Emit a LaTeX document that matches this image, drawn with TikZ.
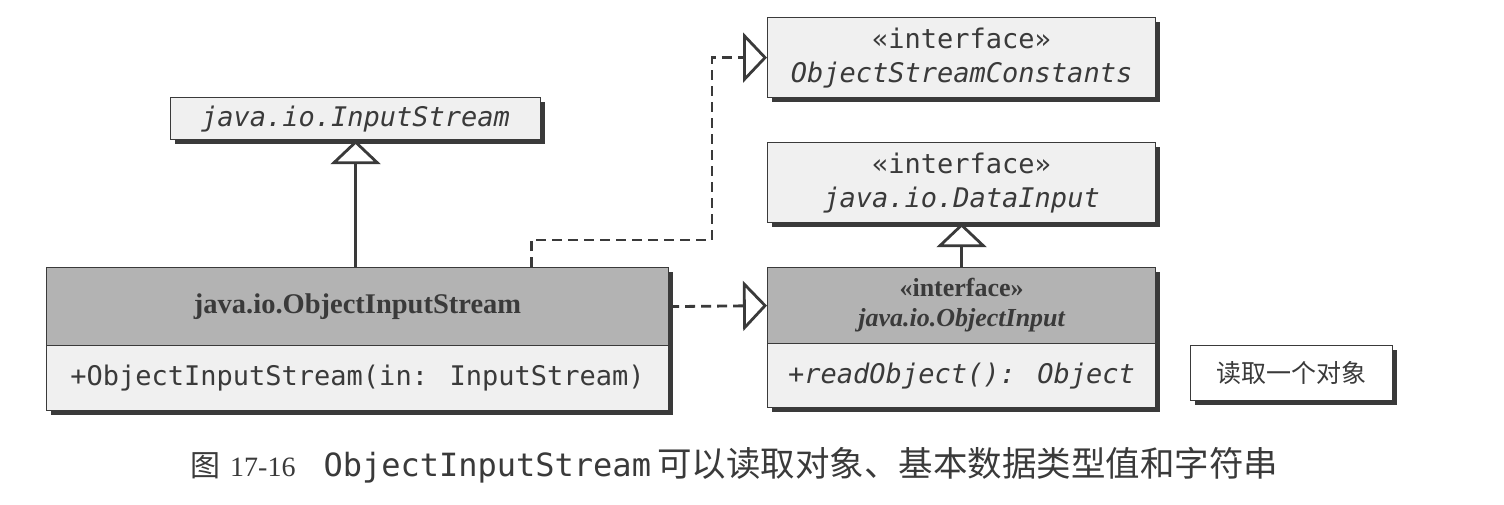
\documentclass[tikz,border=0pt]{standalone}
\usepackage{fontspec}
\setmainfont{Liberation Serif}
\newfontfamily\monof{DejaVu Sans Mono}
\newfontfamily\cjkf{Noto Sans CJK SC}
\usetikzlibrary{arrows.meta,shadows}
\definecolor{ink}{HTML}{3A3A3A}
\definecolor{lightfill}{HTML}{F0F0F0}
\definecolor{darkfill}{HTML}{B3B3B3}
\begin{document}
\begin{tikzpicture}[x=1pt,y=-1pt,
  umlbox/.style={draw=ink, line width=1.2pt, anchor=north west, inner sep=0pt, align=center,
     text=ink, font=\monof\fontsize{27}{34}\selectfont,
     drop shadow={shadow xshift=4pt, shadow yshift=-4pt, fill=ink, opacity=1}},
  light/.style={umlbox, fill=lightfill},
  dark/.style={umlbox, fill=darkfill},
  conn/.style={draw=ink, line width=2.8pt},
  gen/.style={conn, -{Triangle[open, length=24pt, width=50pt, line width=2.8pt]}},
  real/.style={gen, dash pattern=on 10pt off 6pt}
]
\useasboundingbox (0,0) rectangle (1504,504);
\fill[white] (0,0) rectangle (1504,504);

% left column
\node[light, minimum width=370pt, minimum height=42pt] (is) at (170,97) {\itshape java.io.InputStream};
\node[dark, minimum width=622pt, minimum height=78pt, font=\bfseries\fontsize{28.5}{30}\selectfont] (oish) at (46,267) {java.io.ObjectInputStream};
\node[light, minimum width=622pt, minimum height=65pt] (oisb) at (46,345) {+ObjectInputStream(in: InputStream)};

% right column
\node[light, minimum width=388pt, minimum height=80pt] (osc) at (767,17) {«interface»\\\itshape ObjectStreamConstants};
\node[light, minimum width=388pt, minimum height=80pt] (di) at (767,142) {«interface»\\\itshape java.io.DataInput};
\node[dark, minimum width=388pt, minimum height=76pt, font=\bfseries\fontsize{26}{30}\selectfont] (oih) at (767,267) {«interface»\\\itshape java.io.ObjectInput};
\node[light, minimum width=388pt, minimum height=64pt] (oib) at (767,343) {\itshape +readObject(): Object};

% note
\node[umlbox, fill=white, minimum width=202pt, minimum height=55pt, font=\cjkf\fontsize{25}{30}\selectfont] (note) at (1190,345) {读取一个对象};

% connectors
\draw[gen] (oish.north -| is.south) -- (is.south);
\draw[gen] (oih.north) -- (di.south);
\draw[real] (oish.east) -- (oih.west);
\coordinate (j1) at (712,240);
\draw[real] ([xshift=-138pt]oish.north east) |- (j1) |- (osc.west);

% caption
\node[text=ink, anchor=west, inner sep=0pt] (cap) at (190,465)
  {{\cjkf\fontsize{30}{34}\selectfont 图}\hspace{10pt}{\fontsize{28}{34}\selectfont 17-16}\hspace{28pt}{\monof\fontsize{32}{34}\selectfont ObjectInputStream}\hspace{6pt}{\cjkf\fontsize{34.5}{36}\selectfont 可以读取对象、基本数据类型值和字符串}};
\end{tikzpicture}
\end{document}
